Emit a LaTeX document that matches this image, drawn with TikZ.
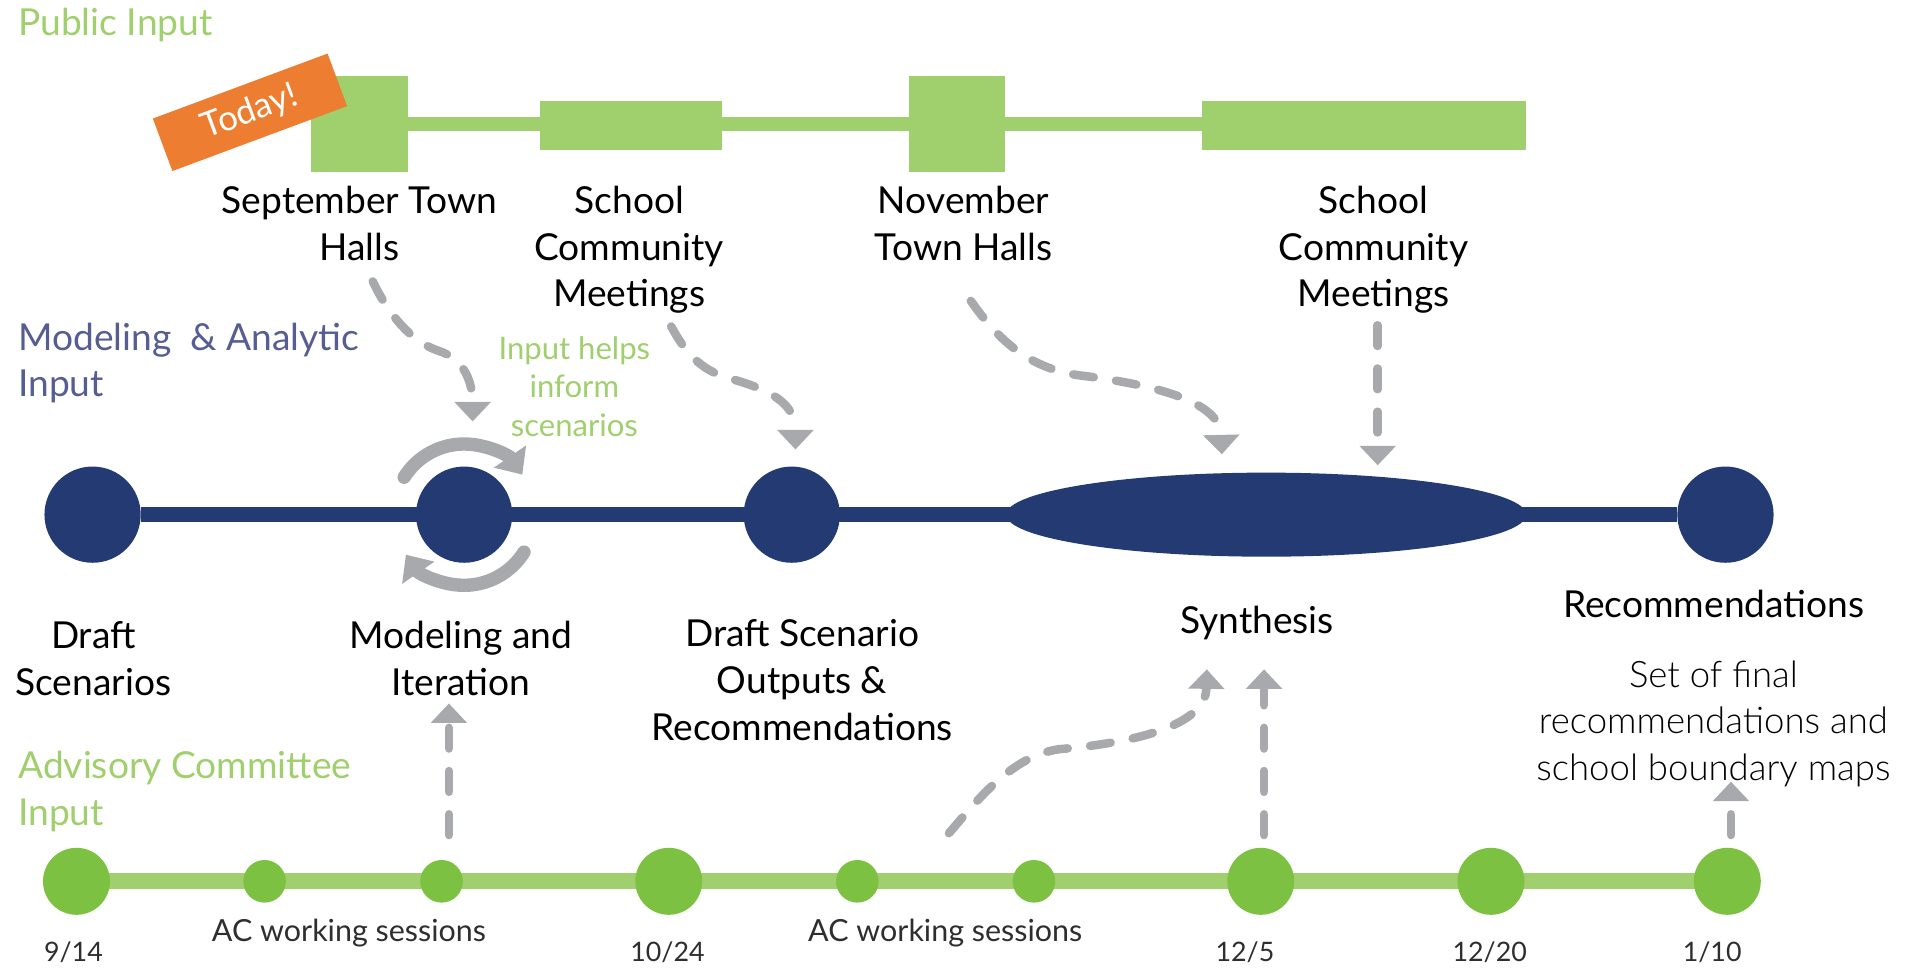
\documentclass[tikz,border=0pt]{standalone}
\usepackage{fontspec}
\setmainfont{Lato}
\IfFontExistsTF{Lato Light}{\newfontfamily\thinfont{Lato Light}}{\newfontfamily\thinfont{Lato}}
\usetikzlibrary{arrows.meta,shapes.geometric,backgrounds}

\definecolor{leaf}{HTML}{A0CF6E}
\definecolor{lime}{HTML}{7DC142}
\definecolor{navy}{HTML}{243A73}
\definecolor{slate}{HTML}{555D93}
\definecolor{tangerine}{HTML}{ED7D31}
\definecolor{ash}{HTML}{A7A9AC}
\definecolor{inkgray}{HTML}{2E2E2E}

\begin{document}
\begin{tikzpicture}[x=1pt, y=-1pt,
  every node/.style={inner sep=0pt, outer sep=0pt},
  % multi-line nodes are anchored at the baseline of their last line
  heading/.style={font=\fontsize{30.5}{38.3}\selectfont, align=left, anchor=base west},
  caption/.style={font=\fontsize{30.5}{38.3}\selectfont, text=black, align=center, anchor=base},
  note/.style={font=\fontsize{25.5}{31.8}\selectfont, text=leaf, align=center, anchor=base},
  tick/.style={font=\fontsize{22}{26}\selectfont, text=inkgray, anchor=base},
  session/.style={font=\fontsize{25}{28}\selectfont, text=inkgray, anchor=base},
  event/.style={fill=leaf, draw=none},
  milestone/.style={circle, fill=navy, minimum size=79pt},
  bigdot/.style={circle, fill=lime, minimum size=55pt},
  smalldot/.style={circle, fill=lime, minimum size=35pt},
  flow/.style={draw=ash, line width=7pt, line cap=round, dash pattern=on 17pt off 18.5pt, -{Triangle[width=29pt,length=16pt]}},
  cycle/.style={draw=ash, line width=11pt, line cap=round, -{Triangle[width=31pt,length=18pt]}},
]
\useasboundingbox (0,0) rectangle (1568,795);

% ---------- public input track ----------
\node[heading, text=leaf] (pubhead) at (15,29) {Public Input};
\node[event, minimum width=79pt, minimum height=79pt] (sept) at (295.2,101.8) {};
\node[event, minimum width=150pt, minimum height=40pt] (sch1) at (518,103.2) {};
\node[event, minimum width=79pt, minimum height=79pt] (nov) at (785.4,101.8) {};
\node[event, minimum width=265.6pt, minimum height=40pt] (sch2) at (1119.6,103.2) {};
\draw[leaf, line width=11.5pt] (sept.center) -- (sept.center -| sch2.center);

\node[fill=tangerine, minimum width=153pt, minimum height=46pt, rotate=20.4,
      text=white, font=\fontsize{28.5}{30}\selectfont] (today) at (205.2,92.2) {Today!};

\node[caption] (septlab) at (295,213.5) {September Town\\Halls};
\node[caption] (sch1lab) at (516.5,251.8) {School\\Community\\Meetings};
\node[caption] (novlab)  at (791,213.5) {November\\Town Halls};
\node[caption] (sch2lab) at (1127.6,251.8) {School\\Community\\Meetings};

% ---------- modeling & analytic track ----------
\node[heading, text=slate] (modhead) at (15,325.7) {Modeling\ \ \& Analytic\\Input};
\node[note] (helps) at (471.5,358.5) {Input helps\\inform\\scenarios};

\node[milestone] (m1) at (76,422.5) {};
\node[milestone] (m2) at (381,422.5) {};
\node[milestone] (m3) at (650,422.5) {};
\node[ellipse, fill=navy, minimum width=427pt, minimum height=69pt] (synth) at (1039.5,422.5) {};
\node[milestone] (m5) at (1416.5,422.5) {};
\draw[navy, line width=12pt] (m1) -- (m5);

% iteration loop round the modeling milestone
\draw[cycle] (m2.center) ++(-148:58) arc[start angle=-148, end angle=-34.5, radius=58];
\draw[cycle] (m2.center) ++(32:58) arc[start angle=32, end angle=145.5, radius=58];

\node[caption] (draftlab) at (76.7,570.6) {Draft\\Scenarios};
\node[caption] (iterlab)  at (378.3,570.6) {Modeling and\\Iteration};
\node[caption] (outlab)   at (658.5,607.5) {Draft Scenario\\Outputs \&\\Recommendations};
\node[caption] (synthlab) at (1032,520) {Synthesis};
\node[caption] (recolab)  at (1407,507) {Recommendations};
\node[caption, font=\thinfont\fontsize{30}{38.1}\selectfont] (finallab) at (1406.6,640.4)
  {Set of final\\recommendations and\\school boundary maps};

% ---------- advisory committee track ----------
\node[heading, text=leaf] (achead) at (15,677.3) {Advisory Committee\\Input};

\node[bigdot]   (a1) at (62.8,723.5) {};
\node[smalldot] (a2) at (217.2,723.5) {};
\node[smalldot] (a3) at (362.5,723.5) {};
\node[bigdot]   (a4) at (549,723.5) {};
\node[smalldot] (a5) at (703.8,723.5) {};
\node[smalldot] (a6) at (848.8,723.5) {};
\node[bigdot]   (a7) at (1035,723.5) {};
\node[bigdot]   (a8) at (1224,723.5) {};
\node[bigdot]   (a9) at (1418,723.5) {};
\begin{scope}[on background layer]
  \draw[leaf, line width=13pt] (a1.center) -- (a9.center);
\end{scope}

\node[tick] (d1) at (60.3,789) {9/14};
\node[tick] (d2) at (548,789) {10/24};
\node[tick] (d3) at (1022,789) {12/5};
\node[tick] (d4) at (1223,789) {12/20};
\node[tick] (d5) at (1405.6,789) {1/10};
\node[session] (ac1) at (286.5,773) {AC working sessions};
\node[session] (ac2) at (776,773) {AC working sessions};

% ---------- dashed feedback arrows ----------
\coordinate (f1a) at (306,231);    \coordinate (f1b) at (388,346);
\coordinate (f2a) at (551,268);    \coordinate (f2b) at (653,369);
\coordinate (f3a) at (797,247);    \coordinate (f3b) at (1003,373);
\coordinate (f4a) at (1131,267);   \coordinate (f4b) at (1131,382);
\coordinate (f5a) at (368.5,685.5); \coordinate (f5b) at (368.5,577.5);
\coordinate (f6a) at (779,684);    \coordinate (f6b) at (990.7,549.5);
\coordinate (f7a) at (1037.7,685.5); \coordinate (f7b) at (1037.7,549.5);
\coordinate (f8a) at (1421,685.5); \coordinate (f8b) at (1421,641.7);

\draw[flow] (f1a) .. controls (318,256) and (336,280) .. (360,288)
                  .. controls (382,295) and (388,315) .. (f1b);
\draw[flow] (f2a) .. controls (562,288) and (574,304) .. (600,311)
                  .. controls (640,322) and (653,335) .. (f2b);
\draw[flow] (f3a) .. controls (820,280) and (845,302) .. (885,308)
                  .. controls (950,316) and (1002,330) .. (f3b);
\draw[flow] (f4a) -- (f4b);
\draw[flow] (f5a) -- (f5b);
\draw[flow] (f6a) .. controls (800,660) and (830,620) .. (870,615)
                  .. controls (950,608) and (990,590) .. (f6b);
\draw[flow] (f7a) -- (f7b);
\draw[flow] (f8a) -- (f8b);

\end{tikzpicture}
\end{document}
